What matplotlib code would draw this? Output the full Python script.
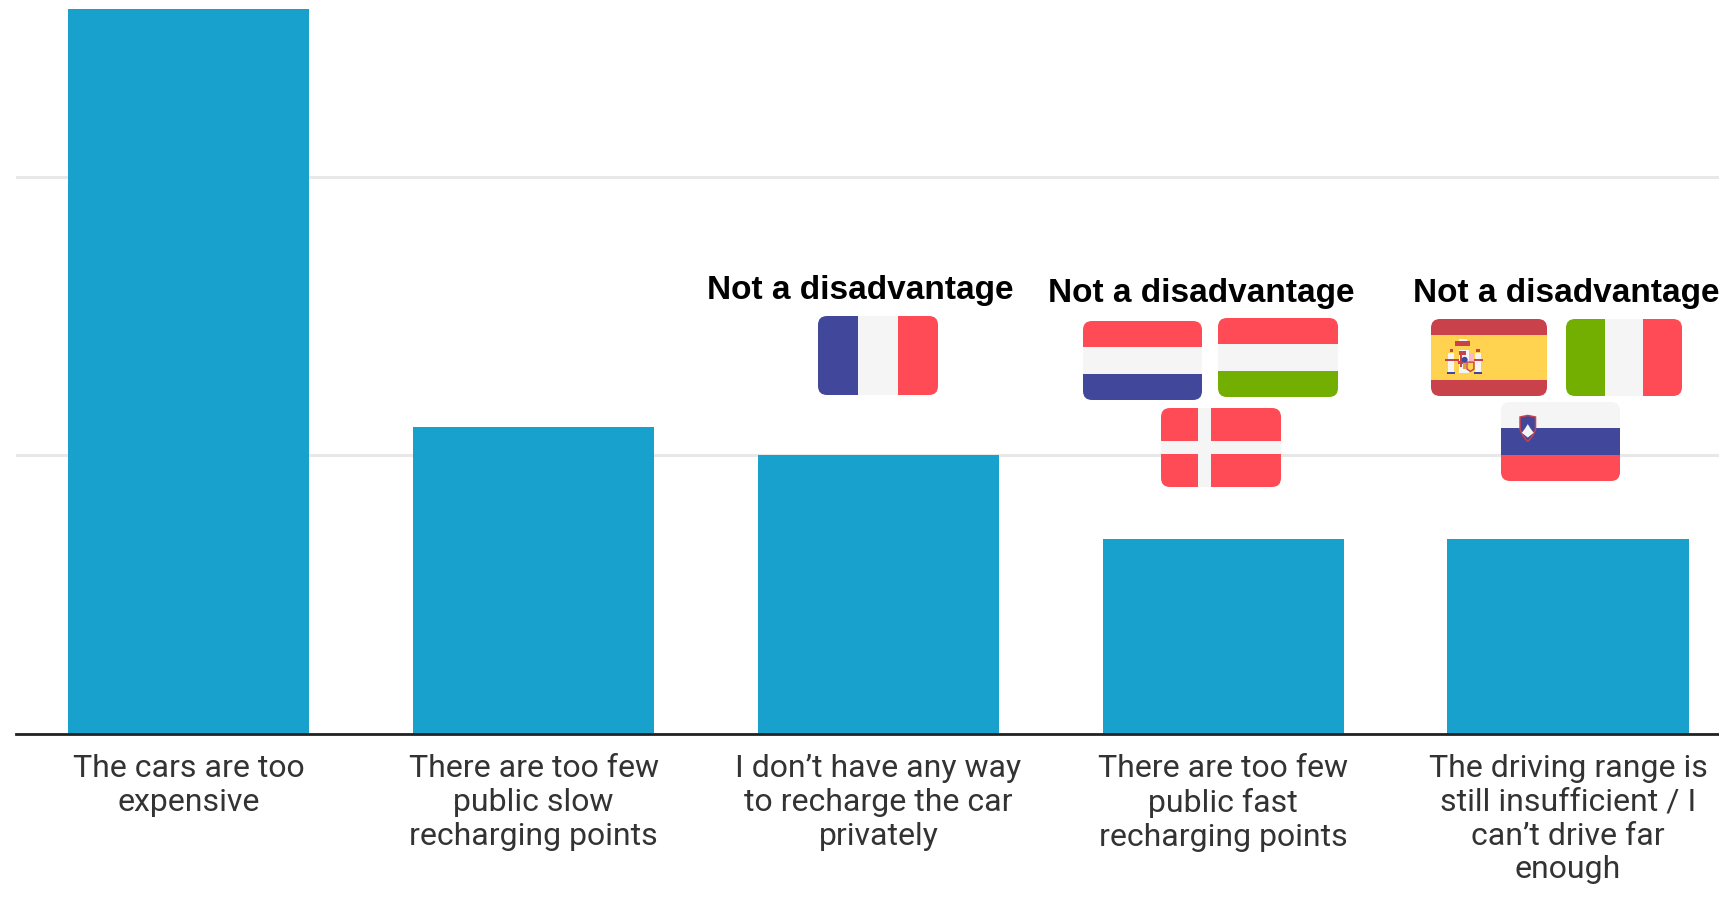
import matplotlib
matplotlib.use('Agg')  # Use non-interactive backend
import matplotlib.pyplot as plt
from matplotlib.patches import FancyBboxPatch, Rectangle, Polygon, Circle

W, H = 1719, 907

labels = [
    'The cars are too\nexpensive',
    'There are too few\npublic slow\nrecharging points',
    'I don\u2019t have any way\nto recharge the car\nprivately',
    'There are too few\npublic fast\nrecharging points',
    'The driving range is\nstill insufficient / I\ncan\u2019t drive far\nenough',
]
values = [26, 11, 10, 7, 7]
y_ticks = [0, 10, 20]

RED = '#ff4b55'
WHITE = '#f5f5f5'
BLUE = '#41479b'
GREEN = '#73af00'
ES_RED = '#c8414b'
YELLOW = '#ffd250'


def flag_box(ov, box):
    # rounded outline everything else in the flag gets clipped to
    x0, y0, x1, y1 = box
    r = 9
    patch = FancyBboxPatch((x0 + r, y0 + r), x1 - x0 - 2 * r, y1 - y0 - 2 * r,
                           boxstyle=f'round,pad={r},rounding_size={r}',
                           fc='white', ec='none', zorder=5)
    ov.add_patch(patch)
    return patch


def h_stripes(ov, box, patch, colors, edges=None):
    x0, y0, x1, y1 = box
    h = y1 - y0
    edges = edges or [i / len(colors) for i in range(len(colors) + 1)]
    for i, c in enumerate(colors):
        r = Rectangle((x0, y0 + edges[i] * h), x1 - x0, (edges[i + 1] - edges[i]) * h,
                      fc=c, ec='none', zorder=6)
        ov.add_patch(r)
        r.set_clip_path(patch)


def v_stripes(ov, box, patch, colors):
    x0, y0, x1, y1 = box
    w = (x1 - x0) / len(colors)
    for i, c in enumerate(colors):
        r = Rectangle((x0 + i * w, y0), w, y1 - y0, fc=c, ec='none', zorder=6)
        ov.add_patch(r)
        r.set_clip_path(patch)


def denmark(ov, box, patch):
    x0, y0, x1, y1 = box
    w, h = x1 - x0, y1 - y0
    h_stripes(ov, box, patch, [RED])
    for r in [Rectangle((x0 + 0.312 * w, y0), 0.105 * w, h, fc=WHITE, ec='none', zorder=7),
              Rectangle((x0, y0 + 0.42 * h), w, 0.16 * h, fc=WHITE, ec='none', zorder=7)]:
        ov.add_patch(r)
        r.set_clip_path(patch)


def spain_arms(ov, box):
    x0, y0, x1, y1 = box
    w, h = x1 - x0, y1 - y0

    def rect(a, b, c, d, col):
        ov.add_patch(Rectangle((x0 + a * w, y0 + b * h), (c - a) * w, (d - b) * h,
                               fc=col, ec='none', zorder=8))

    rect(0.24, 0.40, 0.33, 0.70, '#f5f5f5')
    rect(0.15, 0.44, 0.20, 0.69, '#f5f5f5')
    rect(0.38, 0.44, 0.43, 0.69, '#f5f5f5')
    rect(0.24, 0.42, 0.30, 0.47, ES_RED)
    rect(0.25, 0.47, 0.27, 0.62, ES_RED)
    rect(0.23, 0.55, 0.30, 0.59, ES_RED)
    rect(0.28, 0.52, 0.30, 0.65, '#e8a020')
    rect(0.21, 0.29, 0.34, 0.35, ES_RED)
    rect(0.24, 0.26, 0.31, 0.29, '#f5f5f5')
    rect(0.14, 0.69, 0.21, 0.72, BLUE)
    rect(0.37, 0.69, 0.44, 0.72, BLUE)
    rect(0.16, 0.39, 0.19, 0.43, ES_RED)
    rect(0.39, 0.39, 0.42, 0.43, ES_RED)
    rect(0.12, 0.52, 0.24, 0.54, ES_RED)
    rect(0.34, 0.52, 0.45, 0.54, ES_RED)
    rect(0.33, 0.44, 0.37, 0.54, '#ffb3c6')
    ov.add_patch(Polygon([(x0 + 0.31 * w, y0 + 0.56 * h), (x0 + 0.37 * w, y0 + 0.56 * h),
                          (x0 + 0.37 * w, y0 + 0.65 * h), (x0 + 0.34 * w, y0 + 0.68 * h),
                          (x0 + 0.31 * w, y0 + 0.65 * h)],
                         fc=YELLOW, ec=ES_RED, lw=1, zorder=9))
    ov.add_patch(Circle((x0 + 0.29 * w, y0 + 0.53 * h), 3, fc=BLUE, ec='none', zorder=10))


def slovenia_arms(ov, box):
    x0, y0, x1, y1 = box
    w, h = x1 - x0, y1 - y0
    shield = [(0.16, 0.19), (0.225, 0.17), (0.29, 0.19), (0.29, 0.35), (0.265, 0.43),
              (0.225, 0.50), (0.185, 0.43), (0.16, 0.35)]
    ov.add_patch(Polygon([(x0 + a * w, y0 + b * h) for a, b in shield],
                         fc=BLUE, ec=ES_RED, lw=1.1, zorder=8))
    peak = [(0.175, 0.39), (0.20, 0.34), (0.225, 0.28), (0.25, 0.34), (0.275, 0.39),
            (0.225, 0.45)]
    ov.add_patch(Polygon([(x0 + a * w, y0 + b * h) for a, b in peak],
                         fc='#f5f5f5', ec='none', zorder=9))


fig = plt.figure(figsize=(W / 100, H / 100), dpi=100, facecolor='white')

px_unit = 27.85
base_y = 733.5
ax = fig.add_axes([16.4 / W, (H - base_y) / H, 1724 / W, 26.3 * px_unit / H])
ax.bar(range(len(values)), values, width=0.7, color='#19a1ce', zorder=3)
ax.set_xlim(-0.5, 4.5)
ax.set_ylim(0, 26.3)
ax.set_yticks(y_ticks)
ax.set_yticklabels([])
ax.grid(axis='y', color='#e8e8e8', linewidth=2.2, zorder=0)
ax.set_axisbelow(True)
for s in ['top', 'left', 'right']:
    ax.spines[s].set_visible(False)
ax.spines['bottom'].set_color('#222222')
ax.spines['bottom'].set_linewidth(2.0)
ax.spines['bottom'].set_zorder(5)
ax.tick_params(axis='both', length=0)
ax.set_xticks(range(len(labels)))
ax.set_xticklabels(labels, family='Roboto', fontsize=23, color='#333333', linespacing=1.2)
ax.tick_params(axis='x', pad=15)

# overlay in reference pixels for the annotation text and the flags
ov = fig.add_axes([0, 0, 1, 1], zorder=10)
ov.set_xlim(0, W)
ov.set_ylim(H, 0)
ov.axis('off')
ov.patch.set_alpha(0)

for x, y in [(860, 299), (1201.5, 302), (1566, 302)]:
    ov.text(x, y, 'Not a disadvantage', family='Liberation Sans', fontweight='bold',
            fontsize=24, color='black', ha='center', va='baseline')

box = (818, 316, 938, 395)
v_stripes(ov, box, flag_box(ov, box), [BLUE, WHITE, RED])

box = (1083, 321, 1202, 400)
h_stripes(ov, box, flag_box(ov, box), [RED, WHITE, BLUE])

box = (1218, 318, 1338, 397)
h_stripes(ov, box, flag_box(ov, box), [RED, WHITE, GREEN])

box = (1161, 408, 1281, 487)
denmark(ov, box, flag_box(ov, box))

box = (1431, 319, 1547, 396)
h_stripes(ov, box, flag_box(ov, box), [ES_RED, YELLOW, ES_RED], [0, 0.21, 0.79, 1])
spain_arms(ov, box)

box = (1566, 319, 1682, 396)
v_stripes(ov, box, flag_box(ov, box), [GREEN, WHITE, RED])

box = (1501, 402, 1620, 481)
h_stripes(ov, box, flag_box(ov, box), [WHITE, BLUE, RED])
slovenia_arms(ov, box)

plt.savefig('out.png', dpi=100)
plt.close()
